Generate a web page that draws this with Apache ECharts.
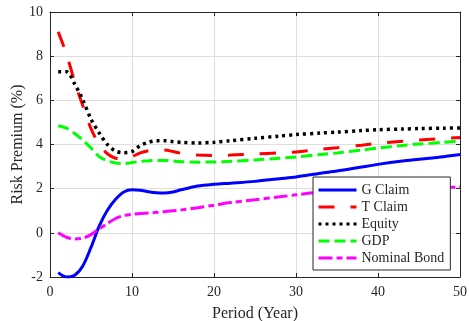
<!DOCTYPE html>
<html>
<head>
<meta charset="utf-8">
<script src="https://cdn.jsdelivr.net/npm/echarts@6/dist/echarts.min.js"></script>
<style>
html,body{margin:0;padding:0;background:#fff;}
#chart{width:469px;height:321px;}
</style>
</head>
<body>
<div id="chart"></div>
<script>
const periods = [1,2,3,4,5,6,7,8,9,10,11,12,13,14,15,16,18,20,22,25,28,30,33,35,38,40,43,45,48,50];
const gClaim = [-1.8,-2.0,-1.92,-1.5,-0.66,0.3,1.02,1.52,1.85,1.95,1.93,1.86,1.81,1.8,1.85,1.95,2.12,2.2,2.25,2.33,2.45,2.53,2.7,2.8,2.98,3.1,3.25,3.33,3.45,3.55];
const tClaim = [9.1,8.1,6.85,5.75,4.72,4.0,3.58,3.38,3.35,3.45,3.62,3.72,3.76,3.75,3.68,3.6,3.52,3.5,3.52,3.57,3.62,3.66,3.78,3.85,3.97,4.05,4.15,4.2,4.27,4.32];
const equity = [7.3,7.3,6.75,6.02,5.15,4.52,4.0,3.7,3.63,3.68,3.95,4.1,4.17,4.17,4.13,4.1,4.07,4.1,4.17,4.28,4.38,4.45,4.52,4.56,4.63,4.67,4.7,4.72,4.74,4.75];
const gdp = [4.85,4.74,4.5,4.2,3.84,3.45,3.26,3.16,3.14,3.18,3.23,3.26,3.28,3.28,3.25,3.22,3.2,3.21,3.24,3.3,3.38,3.43,3.55,3.62,3.75,3.84,3.96,4.02,4.1,4.16];
const nominalBond = [0.0,-0.2,-0.28,-0.24,-0.08,0.18,0.42,0.65,0.78,0.84,0.88,0.9,0.93,0.96,1.0,1.04,1.14,1.25,1.37,1.5,1.63,1.72,1.85,1.9,1.96,2.0,2.03,2.04,2.06,2.07];
const seriesNames = ['G Claim','T Claim','Equity','GDP','Nominal Bond'];
const xTicks = [0,10,20,30,40,50];
const yTicks = [-2,0,2,4,6,8,10];

const FONT = 'Liberation Serif';
const TXT = '#262626';
const pair = arr => periods.map((p,i)=>[p,arr[i]]);

const styles = [
  {color:'#0000ff', type:'solid', width:3},
  {color:'#ff0000', type:[16,16], width:3},
  {color:'#000000', type:[3,4], width:3.5},
  {color:'#00ff00', type:[11,5], width:3},
  {color:'#ff00ff', type:[14,4,6,4], width:3}
];
const dataArr = [gClaim,tClaim,equity,gdp,nominalBond];

const chart = echarts.init(document.getElementById('chart'), null, {renderer:'canvas'});
const baseX = {
  type:'value', min:xTicks[0], max:xTicks[xTicks.length-1], interval:10
};
const baseY = {
  type:'value', min:yTicks[0], max:yTicks[yTicks.length-1], interval:2
};
chart.setOption({
  animation:false,
  backgroundColor:'#fff',
  textStyle:{fontFamily:FONT, color:TXT},
  grid:{left:50, right:9, top:12, bottom:44, containLabel:false, outerBoundsMode:'none'},
  legend:{
    data:seriesNames,
    orient:'vertical',
    left:313, top:177,
    padding:[6,6,5,4],
    itemWidth:38, itemHeight:14, itemGap:3,
    backgroundColor:'#fff',
    borderColor:'#262626', borderWidth:1, borderRadius:0,
    itemStyle:{opacity:0},
    lineStyle:{width:3},
    textStyle:{fontFamily:FONT, fontSize:14, color:TXT}
  },
  xAxis:[
    Object.assign({}, baseX, {
      position:'bottom',
      name:'Period (Year)', nameLocation:'middle', nameGap:29, nameMoveOverlap:false,
      nameTextStyle:{fontFamily:FONT, fontSize:16, color:TXT},
      axisLine:{show:true, onZero:false, lineStyle:{color:TXT, width:1}},
      axisTick:{show:true, inside:true, length:4, lineStyle:{color:TXT}},
      axisLabel:{fontFamily:FONT, fontSize:14, color:TXT, margin:8},
      splitLine:{show:true, lineStyle:{color:'#dedede', width:1}}
    }),
    Object.assign({}, baseX, {
      position:'top',
      axisLine:{show:true, onZero:false, lineStyle:{color:TXT, width:1}},
      axisTick:{show:true, inside:true, length:4, lineStyle:{color:TXT}},
      axisLabel:{show:false},
      splitLine:{show:false}
    })
  ],
  yAxis:[
    Object.assign({}, baseY, {
      position:'left',
      name:'Risk Premium (%)', nameLocation:'middle', nameGap:24, nameMoveOverlap:false,
      nameTextStyle:{fontFamily:FONT, fontSize:16, color:TXT},
      axisLine:{show:true, onZero:false, lineStyle:{color:TXT, width:1}},
      axisTick:{show:true, inside:true, length:4, lineStyle:{color:TXT}},
      axisLabel:{fontFamily:FONT, fontSize:14, color:TXT, margin:7},
      splitLine:{show:true, lineStyle:{color:'#dedede', width:1}}
    }),
    Object.assign({}, baseY, {
      position:'right',
      axisLine:{show:true, onZero:false, lineStyle:{color:TXT, width:1}},
      axisTick:{show:true, inside:true, length:4, lineStyle:{color:TXT}},
      axisLabel:{show:false},
      splitLine:{show:false}
    })
  ],
  series: seriesNames.map((n,i)=>({
    name:n, type:'line', xAxisIndex:0, yAxisIndex:0,
    data:pair(dataArr[i]),
    showSymbol:false, symbol:'none', smooth:0.3,
    color:styles[i].color,
    lineStyle:{color:styles[i].color, type:styles[i].type, width:styles[i].width, cap:'butt'}
  }))
});
</script>
</body>
</html>
